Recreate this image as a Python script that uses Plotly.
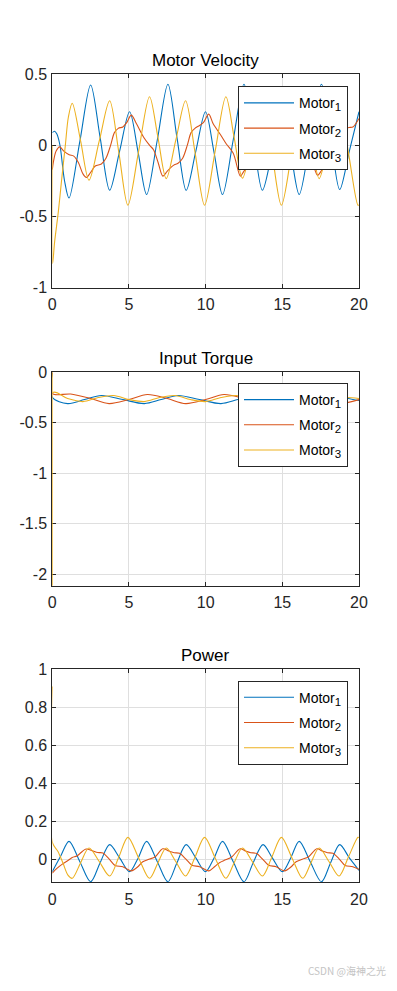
import plotly.graph_objects as go

# ---------------- data ----------------
motor_names = ["Motor<sub><span style='font-size:11.5px'>1</span></sub>",
               "Motor<sub><span style='font-size:11.5px'>2</span></sub>",
               "Motor<sub><span style='font-size:11.5px'>3</span></sub>"]
colors = ["#0072BD", "#D95319", "#EDB120"]
titles = ["Motor Velocity", "Input Torque", "Power"]
x_ticks = [0, 5, 10, 15, 20]
x_tick_labels = ["0", "5", "10", "15", "20"]
vel_ticks = [-1, -0.5, 0, 0.5]
vel_tick_labels = ["-1", "-0.5", "0", "0.5"]
tor_ticks = [-2, -1.5, -1, -0.5, 0]
tor_tick_labels = ["-2", "-1.5", "-1", "-0.5", "0"]
pow_ticks = [0, 0.2, 0.4, 0.6, 0.8, 1]
pow_tick_labels = ["0", "0.2", "0.4", "0.6", "0.8", "1"]

# Motor velocity
t_v1 = [0, 0.15, 0.3, 0.5, 0.8, 1.09, 1.8, 2.5, 3.12, 3.74, 4.39, 5.04, 5.6, 6.15, 6.85, 7.54,
        8.13, 8.73, 9.36, 9.99, 10.55, 11.1, 11.8, 12.5, 13.1, 13.7, 14.35, 15.0, 15.55, 16.1,
        16.82, 17.55, 18.15, 18.74, 19.37, 20.0]
v1 = [0.09, 0.1, 0.08, 0.0, -0.25, -0.37, 0.03, 0.425, 0.055, -0.315, -0.04, 0.237, -0.05, -0.345,
      0.04, 0.43, 0.055, -0.315, -0.04, 0.237, -0.05, -0.345, 0.04, 0.43, 0.055, -0.315, -0.04,
      0.237, -0.05, -0.345, 0.04, 0.43, 0.06, -0.31, -0.04, 0.237]
t_v2 = [0, 0.1, 0.25, 0.48, 0.75, 1.1, 1.4, 1.7, 2.0, 2.22, 2.5, 2.8, 3.2, 3.5, 3.8, 4.05, 4.3,
        4.6, 4.85, 5.15, 5.5, 6.0, 6.35, 6.6, 6.9, 7.21, 7.5, 7.9, 8.2, 8.5, 8.8, 9.05, 9.3, 9.6,
        9.85, 10.2, 10.5, 11.0, 11.35, 11.8, 12.27, 12.5, 12.9, 13.2, 13.5, 13.8, 14.05, 14.3,
        14.6, 14.85, 15.2, 15.5, 16.0, 16.35, 16.7, 17.0, 17.3, 17.6, 17.9, 18.2, 18.5, 18.8,
        19.05, 19.3, 19.6, 20.0]
v2 = [-0.17, -0.1, -0.04, -0.01, -0.04, -0.065, -0.075, -0.12, -0.2, -0.225, -0.19, -0.145,
      -0.13, -0.09, 0.0, 0.09, 0.12, 0.13, 0.16, 0.213, 0.15, 0.05, 0.0, -0.03, -0.12, -0.216,
      -0.18, -0.14, -0.125, -0.09, 0.0, 0.09, 0.12, 0.14, 0.16, 0.22, 0.15, 0.07, 0.01, -0.055,
      -0.216, -0.18, -0.14, -0.125, -0.09, 0.0, 0.09, 0.12, 0.13, 0.16, 0.215, 0.15, 0.06, 0.0,
      -0.04, -0.13, -0.21, -0.17, -0.14, -0.125, -0.09, 0.0, 0.09, 0.125, 0.13, 0.19]
t_v3 = [0, 0.02, 0.15, 0.4, 0.6, 0.85, 1.05, 1.3, 1.85, 2.39, 3.07, 3.74, 4.34, 4.93, 5.63, 6.34,
        6.89, 7.43, 8.06, 8.69, 9.31, 9.93, 10.62, 11.32, 11.86, 12.4, 13.05, 13.7, 14.32, 14.94,
        15.63, 16.33, 16.87, 17.4, 18.05, 18.7, 19.31, 19.93, 20.0]
v3 = [0, -0.83, -0.68, -0.46, -0.25, 0.0, 0.2, 0.296, 0.03, -0.244, 0.035, 0.314, -0.05, -0.42,
      -0.04, 0.342, 0.055, -0.233, 0.04, 0.314, -0.05, -0.42, -0.04, 0.342, 0.055, -0.23, 0.04,
      0.314, -0.05, -0.42, -0.04, 0.342, 0.055, -0.233, 0.04, 0.314, -0.05, -0.42, -0.418]

# Input torque
t_q1 = [0, 0.01, 1.0, 2.1, 3.2, 4.6, 6.0, 7.1, 8.2, 9.6, 11.0, 12.1, 13.2, 14.6, 16.0, 17.1,
        18.2, 19.6, 20.0]
q1 = [0, -0.25, -0.31, -0.27, -0.23, -0.27, -0.31, -0.27, -0.23, -0.27, -0.31, -0.27, -0.23,
      -0.27, -0.31, -0.27, -0.23, -0.27, -0.28]
t_q2 = [0, 0.01, 1.2, 2.5, 3.7, 5.0, 6.2, 7.5, 8.7, 10.0, 11.2, 12.5, 13.7, 15.0, 16.2, 17.5,
        18.7, 20.0]
q2 = [0, -0.21, -0.215, -0.26, -0.31, -0.27, -0.22, -0.26, -0.31, -0.27, -0.22, -0.26, -0.31,
      -0.27, -0.22, -0.26, -0.31, -0.27]
t_q3 = [0, 0.005, 0.03, 1.0, 2.0, 3.0, 4.0, 5.0, 6.0, 7.0, 8.0, 9.0, 10.0, 11.0, 12.0, 13.0,
        14.0, 15.0, 16.0, 17.0, 18.0, 19.0, 20.0]
q3 = [0, -2.11, -0.2, -0.26, -0.29, -0.25, -0.23, -0.27, -0.29, -0.25, -0.23, -0.27, -0.29,
      -0.25, -0.23, -0.27, -0.29, -0.25, -0.23, -0.27, -0.29, -0.25, -0.26]

# Power
t_p1 = [0, 0.55, 1.09, 1.8, 2.5, 3.12, 3.74, 4.39, 5.04, 5.6, 6.15, 6.85, 7.54, 8.13, 8.73, 9.36,
        9.99, 10.55, 11.1, 11.8, 12.5, 13.1, 13.74, 14.35, 15.0, 15.55, 16.1, 16.82, 17.55,
        18.15, 18.74, 19.37, 20.0]
p1 = [-0.062, 0.02, 0.097, -0.01, -0.115, -0.015, 0.08, 0.01, -0.062, 0.01, 0.097, -0.01, -0.115,
      -0.015, 0.08, 0.01, -0.062, 0.01, 0.097, -0.01, -0.115, -0.015, 0.08, 0.01, -0.062, 0.01,
      0.097, -0.01, -0.115, -0.015, 0.08, 0.01, -0.055]
t_p2 = [0, 0.3, 0.7, 1.0, 1.3, 1.6, 1.9, 2.2, 2.6, 2.97, 3.3, 3.7, 4.1, 4.6, 5.15, 5.6, 5.9, 6.3,
        6.7, 7.2, 7.6, 7.95, 8.3, 8.7, 9.1, 9.6, 10.2, 10.6, 10.9, 11.3, 11.7, 12.25, 12.6, 12.95,
        13.3, 13.7, 14.1, 14.6, 15.15, 15.6, 15.9, 16.3, 16.7, 17.25, 17.6, 17.95, 18.3, 18.7,
        19.1, 19.6, 20.0]
p2 = [-0.07, -0.045, -0.02, -0.005, 0.012, 0.02, 0.04, 0.057, 0.048, 0.038, 0.036, 0.005, -0.03,
      -0.036, -0.058, -0.035, -0.01, 0.003, 0.015, 0.058, 0.046, 0.037, 0.034, 0.005, -0.028,
      -0.036, -0.058, -0.035, -0.015, 0.0, 0.015, 0.058, 0.046, 0.037, 0.034, 0.005, -0.028,
      -0.036, -0.058, -0.035, -0.01, 0.003, 0.015, 0.058, 0.046, 0.037, 0.034, 0.005, -0.03,
      -0.036, -0.05]
t_p3 = [0, 0.01, 0.37, 0.7, 1.02, 1.3, 1.85, 2.39, 3.07, 3.74, 4.34, 4.93, 5.63, 6.34, 6.89, 7.43,
        8.06, 8.69, 9.31, 9.93, 10.62, 11.32, 11.86, 12.4, 13.05, 13.7, 14.32, 14.94, 15.63,
        16.33, 16.87, 17.4, 18.05, 18.7, 19.31, 19.93, 20.0]
p3 = [0.91, 0.09, 0.044, -0.018, -0.08, -0.097, -0.015, 0.062, -0.01, -0.085, 0.015, 0.118, 0.01,
      -0.097, -0.015, 0.062, -0.01, -0.085, 0.015, 0.118, 0.01, -0.097, -0.015, 0.062, -0.01,
      -0.085, 0.015, 0.118, 0.01, -0.097, -0.015, 0.062, -0.01, -0.085, 0.015, 0.118, 0.117]

panels = [
    ([t_v1, t_v2, t_v3], [v1, v2, v3], vel_ticks, vel_tick_labels, [-1, 0.5]),
    ([t_q1, t_q2, t_q3], [q1, q2, q3], tor_ticks, tor_tick_labels, [-2.113, 0]),
    ([t_p1, t_p2, t_p3], [p1, p2, p3], pow_ticks, pow_tick_labels, [-0.118, 1]),
]

# ---------------- layout geometry ----------------
# the page body has an 8 px default margin, so the figure is placed 8 px in
OFF = 8
W, H = 397 - 2 * OFF, 991 - 2 * OFF
x_dom = [(52.3 - OFF) / W, (359.0 - OFF) / W]
y_px = [(74.3, 287.7), (372.3, 585.7), (669.3, 882.3)]
legend_top_px = [86.3, 383.0, 680.7]
legend_right_px = 348.0

FONT = "Liberation Sans, Arial, Helvetica, sans-serif"
AX = "#262626"
GRID = "#dfdfdf"

fig = go.Figure()
layout = dict(
    width=W, height=H, margin=dict(l=0, r=0, t=0, b=0, autoexpand=False),
    paper_bgcolor="white", plot_bgcolor="white",
    font=dict(family=FONT, size=14, color=AX),
    annotations=[],
)

for i, (ts, ys, yt, ytl, yr) in enumerate(panels):
    n = "" if i == 0 else str(i + 1)
    xa, ya = "x" + n, "y" + n
    lg = "legend" + n
    for k in range(3):
        fig.add_trace(go.Scatter(
            x=ts[k], y=ys[k], mode="lines", name=motor_names[k],
            line=dict(color=colors[k], width=1.1, shape="spline", smoothing=0.9),
            xaxis=xa, yaxis=ya, legend=lg, legendgroup=f"g{i}{k}",
        ))
    top, bot = y_px[i]
    ydom = [1 - (bot - OFF) / H, 1 - (top - OFF) / H]
    common = dict(showline=True, linecolor=AX, linewidth=1, mirror="ticks", ticks="inside",
                  ticklen=4, tickcolor=AX, showgrid=True, gridcolor=GRID, gridwidth=1,
                  zeroline=False, automargin=False, layer="below traces",
                  tickfont=dict(family=FONT, size=16, color=AX))
    layout["xaxis" + n] = dict(domain=x_dom, range=[0, 20], tickvals=x_ticks,
                               ticktext=x_tick_labels, anchor=ya, ticklabelstandoff=2,
                               **common)
    layout["yaxis" + n] = dict(domain=ydom, range=yr, tickvals=yt, ticktext=ytl, anchor=xa,
                               ticklabelstandoff=1, **common)
    layout[lg] = dict(x=(legend_right_px - OFF) / W, y=1 - (legend_top_px[i] - OFF) / H,
                      xanchor="right", yanchor="top",
                      bgcolor="white", bordercolor=AX, borderwidth=1,
                      font=dict(family=FONT, size=14, color="#000"),
                      itemwidth=50, tracegroupgap=4)
    layout["annotations"].append(dict(
        text=titles[i], x=(x_dom[0] + x_dom[1]) / 2, y=ydom[1], xref="paper", yref="paper",
        xanchor="center", yanchor="bottom", yshift=2, showarrow=False,
        font=dict(family=FONT, size=17, color="#000")))

layout["annotations"].append(dict(
    text="CSDN @海神之光", x=1.0, y=0, xref="paper", yref="paper",
    xanchor="right", yanchor="bottom", xshift=-1, yshift=3, showarrow=False,
    font=dict(family="Noto Sans CJK SC, sans-serif", size=10, color="#c4c4c4")))

fig.update_layout(**layout)
fig.write_html("out.html")
